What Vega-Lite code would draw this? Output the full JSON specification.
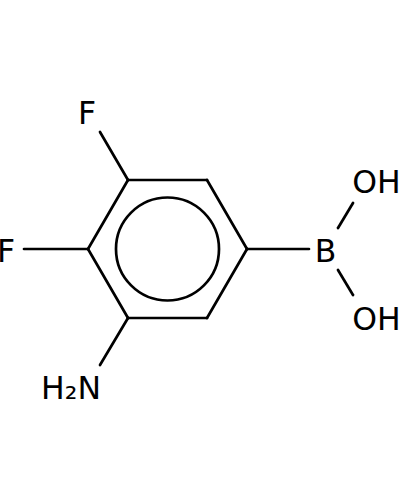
{
  "$schema": "https://vega.github.io/schema/vega-lite/v6.json",
  "width": 400,
  "height": 500,
  "padding": 0,
  "autosize": {"type": "none"},
  "background": "white",
  "view": {"stroke": null},
  "config": {"axis": {"disable": true}},
  "layer": [
    {
      "data": {"values": [
        {"x": 128, "y": 180, "x2": 207, "y2": 180},
        {"x": 207, "y": 180, "x2": 247, "y2": 249},
        {"x": 247, "y": 249, "x2": 207, "y2": 318},
        {"x": 207, "y": 318, "x2": 128, "y2": 318},
        {"x": 128, "y": 318, "x2": 88, "y2": 249},
        {"x": 88, "y": 249, "x2": 128, "y2": 180},
        {"x": 128, "y": 180, "x2": 100, "y2": 132},
        {"x": 88, "y": 249, "x2": 24, "y2": 249},
        {"x": 247, "y": 249, "x2": 309, "y2": 249},
        {"x": 338, "y": 228, "x2": 353, "y2": 203},
        {"x": 338, "y": 270, "x2": 353, "y2": 295},
        {"x": 128, "y": 318, "x2": 100, "y2": 365}
      ]},
      "mark": {"type": "rule", "color": "black", "strokeWidth": 2.7, "strokeCap": "round"},
      "encoding": {
        "x": {"field": "x", "type": "quantitative", "scale": {"domain": [0, 400], "nice": false, "zero": false}, "axis": null},
        "y": {"field": "y", "type": "quantitative", "scale": {"domain": [500, 0], "nice": false, "zero": false}, "axis": null},
        "x2": {"field": "x2"},
        "y2": {"field": "y2"}
      }
    },
    {
      "data": {"values": [{"x": 167.5, "y": 249, "d": 10609}]},
      "mark": {"type": "point", "filled": false, "shape": "circle", "color": "black", "strokeWidth": 2.7, "opacity": 1},
      "encoding": {
        "x": {"field": "x", "type": "quantitative", "scale": {"domain": [0, 400], "nice": false, "zero": false}, "axis": null},
        "y": {"field": "y", "type": "quantitative", "scale": {"domain": [500, 0], "nice": false, "zero": false}, "axis": null},
        "size": {"field": "d", "type": "quantitative", "scale": null, "legend": null}
      }
    },
    {
      "data": {"values": [
        {"x": 87, "y": 123.5, "label": "F"},
        {"x": 6, "y": 261.5, "label": "F"},
        {"x": 325.5, "y": 262, "label": "B"},
        {"x": 376.5, "y": 192.5, "label": "OH"},
        {"x": 376.5, "y": 330, "label": "OH"},
        {"x": 71, "y": 398.5, "label": "H₂N"}
      ]},
      "mark": {"type": "text", "font": "DejaVu Sans", "fontSize": 31.5, "color": "black", "align": "center", "baseline": "alphabetic"},
      "encoding": {
        "x": {"field": "x", "type": "quantitative", "scale": {"domain": [0, 400], "nice": false, "zero": false}, "axis": null},
        "y": {"field": "y", "type": "quantitative", "scale": {"domain": [500, 0], "nice": false, "zero": false}, "axis": null},
        "text": {"field": "label", "type": "nominal"}
      }
    }
  ]
}
